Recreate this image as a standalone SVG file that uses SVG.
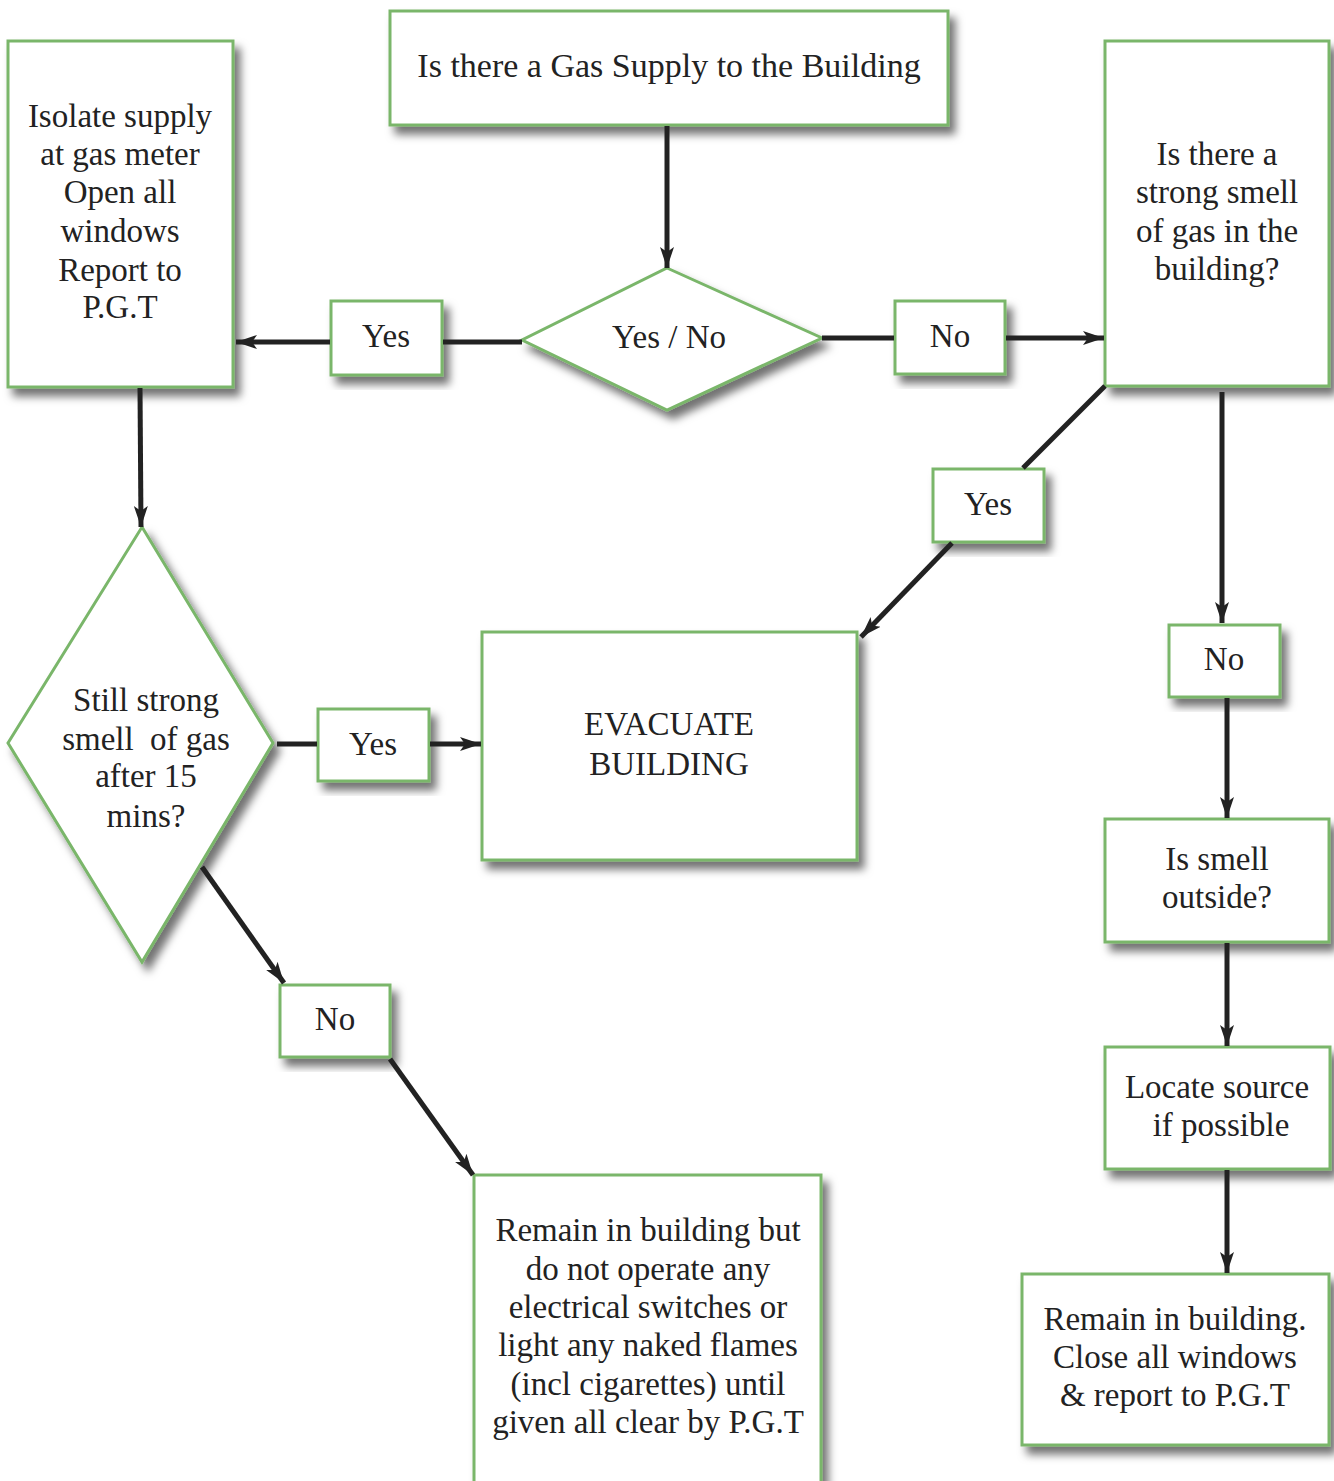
<svg xmlns="http://www.w3.org/2000/svg" width="1334" height="1481" viewBox="0 0 1334 1481">
<defs>
<filter id="sh" x="-10%" y="-10%" width="130%" height="130%">
<feDropShadow dx="6" dy="8" stdDeviation="4.5" flood-color="#000" flood-opacity="0.55"/>
</filter>
<marker id="ah" markerUnits="userSpaceOnUse" markerWidth="24" markerHeight="18" refX="21" refY="9" orient="auto">
<path d="M0,2 L21,9 L0,16 L5,9 Z" fill="#222"/>
</marker>
<style>
.n{fill:#fff;stroke:#7ab66a;stroke-width:3;filter:url(#sh)}
.t{font-family:"Liberation Serif","Times New Roman",serif;font-size:33px;fill:#222;text-anchor:middle}
.big{font-size:34px}
.pre{white-space:pre}
.c{stroke:#222;stroke-width:5;fill:none}
.a{marker-end:url(#ah)}
</style>
</defs>
<rect width="1334" height="1481" fill="#fff"/>
<g id="nodes">
<g id="start"><rect class="n" x="390" y="11" width="558" height="114"/><text class="t big" x="669" y="77">Is there a Gas Supply to the Building</text></g>
<g id="dec1"><polygon class="n" points="667,268 822,338 667,410 522,340"/><text class="t" x="669" y="348">Yes / No</text></g>
<g id="yes1"><rect class="n" x="331" y="301" width="111" height="74"/><text class="t" x="386" y="347">Yes</text></g>
<g id="no1"><rect class="n" x="895" y="301" width="110" height="73"/><text class="t" x="950" y="347">No</text></g>
<g id="isolate"><rect class="n" x="8" y="41" width="225" height="346"/>
<text class="t" x="120" y="127">Isolate supply</text>
<text class="t" x="120" y="165">at gas meter</text>
<text class="t" x="120" y="203">Open all</text>
<text class="t" x="120" y="242">windows</text>
<text class="t" x="120" y="281">Report to</text>
<text class="t" x="120" y="318">P.G.T</text></g>
<g id="smell"><rect class="n" x="1105" y="41" width="224" height="345"/>
<text class="t" x="1217" y="165">Is there a</text>
<text class="t" x="1217" y="203">strong smell</text>
<text class="t" x="1217" y="242">of gas in the</text>
<text class="t" x="1217" y="280">building?</text></g>
<g id="yes2"><rect class="n" x="933" y="469" width="111" height="73"/><text class="t" x="988" y="515">Yes</text></g>
<g id="no2"><rect class="n" x="1169" y="625" width="111" height="72"/><text class="t" x="1224" y="670">No</text></g>
<g id="outside"><rect class="n" x="1105" y="819" width="224" height="123"/>
<text class="t" x="1217" y="870">Is smell</text>
<text class="t" x="1217" y="908">outside?</text></g>
<g id="locate"><rect class="n" x="1105" y="1047" width="225" height="122"/>
<text class="t" x="1217" y="1098">Locate source</text>
<text class="t" x="1221" y="1136">if possible</text></g>
<g id="remain2"><rect class="n" x="1022" y="1274" width="307" height="171"/>
<text class="t" x="1175" y="1330">Remain in building.</text>
<text class="t" x="1175" y="1368">Close all windows</text>
<text class="t" x="1175" y="1406">&amp; report to P.G.T</text></g>
<g id="dec2"><polygon class="n" points="142,527 273,743 142,962 8,743"/>
<text class="t" x="146" y="711">Still strong</text>
<text class="t pre" x="146" y="750" xml:space="preserve">smell  of gas</text>
<text class="t" x="146" y="787">after 15</text>
<text class="t" x="146" y="827">mins?</text></g>
<g id="yes3"><rect class="n" x="318" y="709" width="111" height="72"/><text class="t" x="373" y="755">Yes</text></g>
<g id="evac"><rect class="n" x="482" y="632" width="375" height="228"/>
<text class="t" x="669" y="735">EVACUATE</text>
<text class="t" x="669" y="775">BUILDING</text></g>
<g id="no3"><rect class="n" x="280" y="985" width="110" height="72"/><text class="t" x="335" y="1030">No</text></g>
<g id="remain1"><rect class="n" x="474" y="1175" width="347" height="320"/>
<text class="t" x="648" y="1241">Remain in building but</text>
<text class="t" x="648" y="1280">do not operate any</text>
<text class="t" x="648" y="1318">electrical switches or</text>
<text class="t" x="648" y="1356">light any naked flames</text>
<text class="t" x="648" y="1395">(incl cigarettes) until</text>
<text class="t" x="648" y="1433">given all clear by P.G.T</text></g>
</g>
<g id="connectors">
<line class="c a" x1="667" y1="126" x2="667" y2="268"/>
<line class="c" x1="522" y1="342" x2="443" y2="342"/>
<line class="c a" x1="330" y1="342" x2="236" y2="342"/>
<line class="c" x1="822" y1="338" x2="894" y2="338"/>
<line class="c a" x1="1006" y1="338" x2="1104" y2="338"/>
<line class="c" x1="1105" y1="386" x2="1023" y2="468"/>
<line class="c a" x1="952" y1="543" x2="861" y2="637"/>
<line class="c a" x1="1222" y1="392" x2="1222" y2="623"/>
<line class="c a" x1="1227" y1="698" x2="1227" y2="818"/>
<line class="c a" x1="1227" y1="943" x2="1227" y2="1046"/>
<line class="c a" x1="1227" y1="1170" x2="1227" y2="1273"/>
<line class="c a" x1="140" y1="388" x2="141" y2="527"/>
<line class="c" x1="277" y1="744" x2="317" y2="744"/>
<line class="c a" x1="430" y1="744" x2="481" y2="744"/>
<line class="c a" x1="202" y1="867" x2="284" y2="983"/>
<line class="c a" x1="390" y1="1059" x2="473" y2="1175"/>
</g>
</svg>
